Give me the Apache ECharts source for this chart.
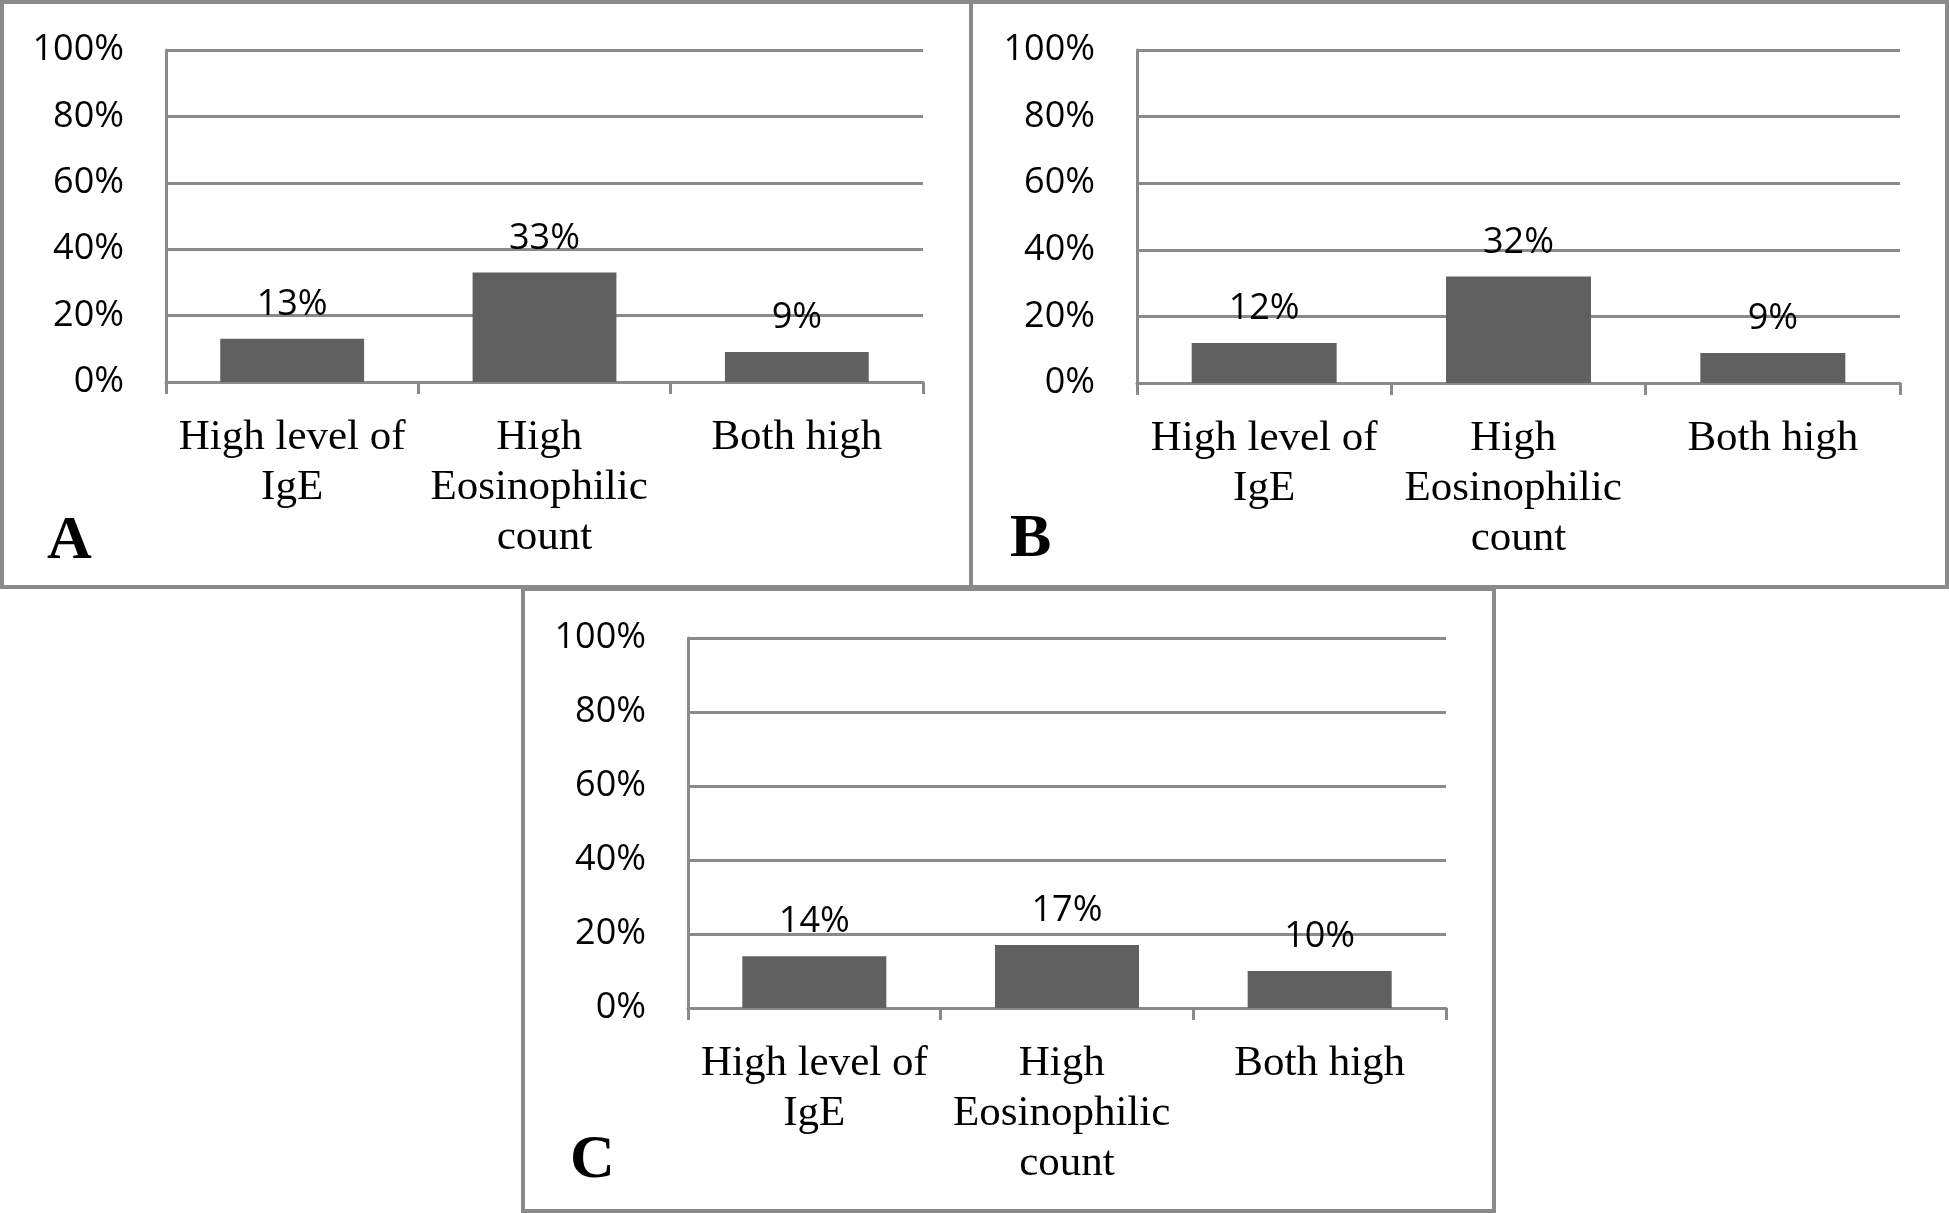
<!DOCTYPE html>
<html>
<head>
<meta charset="utf-8">
<script src="https://cdn.jsdelivr.net/npm/echarts@6/dist/echarts.min.js"></script>
<style>
html,body{margin:0;padding:0;background:#fff;}
#chart{width:1949px;height:1213px;}
</style>
</head>
<body>
<div id="chart"></div>
<script>
// ---- data ----
const categories = ['High level of\nIgE', 'High \nEosinophilic \ncount', 'Both high'];
const valuesA = [13, 33, 9];
const valuesB = [12, 32, 9];
const valuesC = [14, 17, 10];
const panelLetters = ['A', 'B', 'C'];
const yMin = 0, yMax = 100, yStep = 20;

// ---- styling ----
const GRAY = '#8a8a8a';
const BAR = '#606060';
const SANS = '"Open Sans", "Liberation Sans", sans-serif';
const SERIF = '"Liberation Serif", "Times New Roman", serif';

const grids = [
  {left: 166, top: 50, width: 757, height: 332},
  {left: 1137, top: 50, width: 763, height: 333},
  {left: 688, top: 638, width: 758, height: 370}
];
const allValues = [valuesA, valuesB, valuesC];

const chart = echarts.init(document.getElementById('chart'), null, {renderer: 'canvas'});

const option = {
  backgroundColor: '#fff',
  animation: false,
  grid: grids.map(g => Object.assign({containLabel: false, outerBoundsMode: 'none'}, g)),
  xAxis: grids.map((g, i) => ({
    type: 'category',
    gridIndex: i,
    data: categories,
    boundaryGap: true,
    axisLine: {show: true, lineStyle: {color: GRAY, width: 3}},
    axisTick: {show: true, alignWithLabel: false, length: 12, lineStyle: {color: GRAY, width: 3}},
    axisLabel: {
      interval: 0,
      margin: 31,
      color: '#000',
      fontFamily: SERIF,
      fontSize: 43,
      lineHeight: 50,
      hideOverlap: false
    },
    splitLine: {show: false}
  })),
  yAxis: grids.map((g, i) => ({
    type: 'value',
    gridIndex: i,
    min: yMin,
    max: yMax,
    interval: yStep,
    axisLine: {show: true, lineStyle: {color: GRAY, width: 3}},
    axisTick: {show: false},
    axisLabel: {
      formatter: '{value}%',
      margin: 42,
      color: '#000',
      fontFamily: SANS,
      fontSize: 36,
      padding: [6, 0, 0, 0]
    },
    splitLine: {show: true, lineStyle: {color: GRAY, width: 3}}
  })),
  series: allValues.map((vals, i) => ({
    type: 'bar',
    xAxisIndex: i,
    yAxisIndex: i,
    data: vals,
    barCategoryGap: '43%',
    itemStyle: {color: BAR},
    label: {
      show: true,
      position: 'top',
      distance: 16,
      formatter: p => Math.round(p.value) + '%',
      color: '#000',
      fontFamily: SANS,
      fontSize: 36
    }
  })),
  graphic: [
    {type: 'rect', shape: {x: 2, y: 2, width: 969, height: 585}, style: {fill: 'none', stroke: GRAY, lineWidth: 4}, z: 100},
    {type: 'rect', shape: {x: 971, y: 2, width: 976, height: 585}, style: {fill: 'none', stroke: GRAY, lineWidth: 4}, z: 100},
    {type: 'rect', shape: {x: 523, y: 589, width: 971, height: 622}, style: {fill: 'none', stroke: GRAY, lineWidth: 4}, z: 100},
    {type: 'text', left: 47, top: 511, style: {text: panelLetters[0], font: 'bold 62px ' + SERIF, fill: '#000'}, z: 100},
    {type: 'text', left: 1010, top: 509, style: {text: panelLetters[1], font: 'bold 62px ' + SERIF, fill: '#000'}, z: 100},
    {type: 'text', left: 570, top: 1130, style: {text: panelLetters[2], font: 'bold 62px ' + SERIF, fill: '#000'}, z: 100}
  ]
};
chart.setOption(option);
</script>
</body>
</html>
